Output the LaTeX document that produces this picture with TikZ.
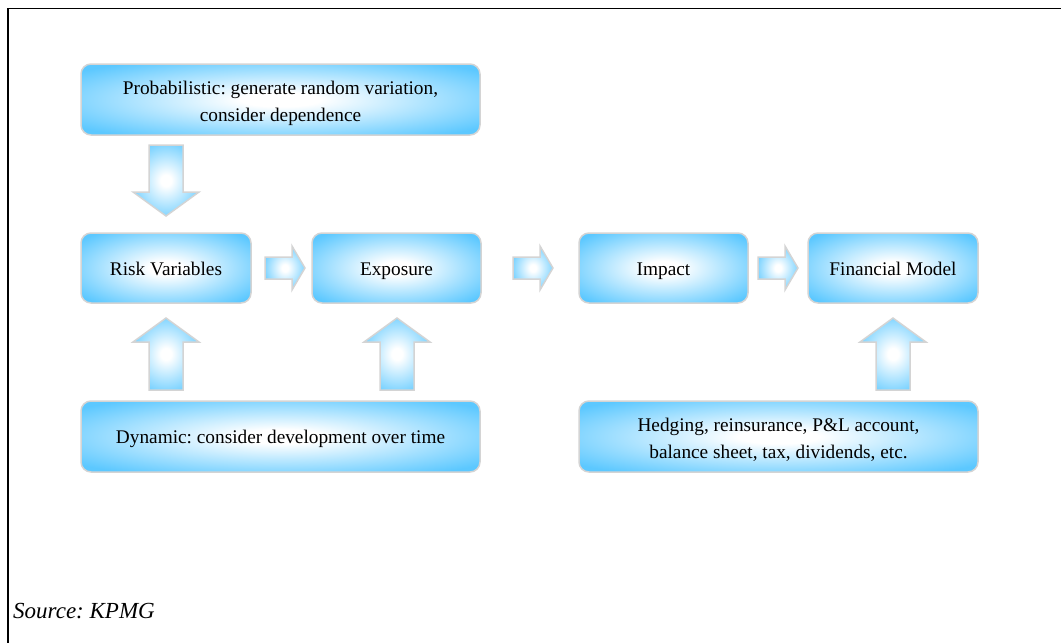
\documentclass[tikz,border=0pt]{standalone}
\usepackage{fontspec}
\setmainfont{Liberation Serif}
\frenchspacing
\definecolor{kblue}{HTML}{5CC8FF}
\definecolor{kgray}{HTML}{D4D4D4}
\pgfdeclareradialshading{soft}{\pgfpoint{0bp}{0bp}}{color(0bp)=(white); color(5bp)=(white); color(32bp)=(kblue); color(50bp)=(kblue)}
\pgfdeclareradialshading{softarr}{\pgfpoint{0bp}{0bp}}{color(0bp)=(white); color(4bp)=(white); color(32bp)=(kblue); color(50bp)=(kblue)}
\tikzset{
  box/.style={draw=kgray, line width=1.5pt, shading=soft, rounded corners=10pt,
    inner sep=0pt, align=center, font=\fontsize{19.3}{27}\selectfont, text=black},
  onebox/.style={box, text height=14pt, text depth=0pt},
  txt/.style={inner sep=0pt, align=center, font=\fontsize{19.3}{27}\selectfont, text=black},
  blockarr/.style={draw=kgray, line width=1.5pt, shading=softarr, line join=miter},
  frame/.style={line width=1.6pt, black}
}
\begin{document}
\begin{tikzpicture}[x=1pt, y=-1pt]
\useasboundingbox (0,0) rectangle (1061,643);
\draw[frame] (8,643) -- (8,8.5) -- (1061,8.5);

\node[box, minimum width=399pt, minimum height=71pt] (prob) at (280.5,99.5) {};
\node[txt] (probtext) at ([yshift=-3.5pt]prob.center)
  {Probabilistic: generate random variation,\\consider dependence};
\node[onebox, minimum width=170pt, minimum height=70pt] (risk) at (166,268) {Risk Variables};
\node[onebox, minimum width=169pt, minimum height=70pt] (exp) at (396.5,268) {Exposure};
\node[onebox, minimum width=169pt, minimum height=70pt] (imp) at (663.5,268) {Impact};
\node[onebox, minimum width=170pt, minimum height=70pt] (fin) at (893,268) {Financial Model};
\node[onebox, minimum width=399pt, minimum height=71pt] (dyn) at (280.5,436.5)
  {Dynamic: consider development over time};
\node[box, minimum width=399pt, minimum height=71pt] (hedge) at (778.5,436.5) {};
\node[txt] (hedgetext) at ([yshift=-3.5pt]hedge.center)
  {Hedging, reinsurance, P\&L account,\\balance sheet, tax, dividends, etc.};

% prob -> risk (down)
\path[blockarr] (149,145) -- (183,145) -- (183,192) -- (199,192) -- (166,216)
  -- (133,192) -- (149,192) -- cycle;
% dyn -> risk (up)
\path[blockarr] (149,390) -- (183,390) -- (183,342) -- (199,342) -- (166,318)
  -- (133,342) -- (149,342) -- cycle;
% dyn -> exp (up)
\path[blockarr] (380,390) -- (414,390) -- (414,342) -- (430,342) -- (397,318)
  -- (364,342) -- (380,342) -- cycle;
% hedge -> fin (up)
\path[blockarr] (876,390) -- (910,390) -- (910,342) -- (926,342) -- (893,318)
  -- (860,342) -- (876,342) -- cycle;
% risk -> exp
\path[blockarr] (265,257) -- (292,257) -- (292,246) -- (305,268) -- (292,290)
  -- (292,279) -- (265,279) -- cycle;
% exp -> imp
\path[blockarr] (513,257) -- (540,257) -- (540,246) -- (553,268) -- (540,290)
  -- (540,279) -- (513,279) -- cycle;
% imp -> fin
\path[blockarr] (758,257) -- (785,257) -- (785,246) -- (798,268) -- (785,290)
  -- (785,279) -- (758,279) -- cycle;

\node[anchor=west, inner sep=0pt, font=\fontsize{23}{27}\selectfont\itshape] (src) at (13,611) {Source: KPMG};
\end{tikzpicture}
\end{document}
